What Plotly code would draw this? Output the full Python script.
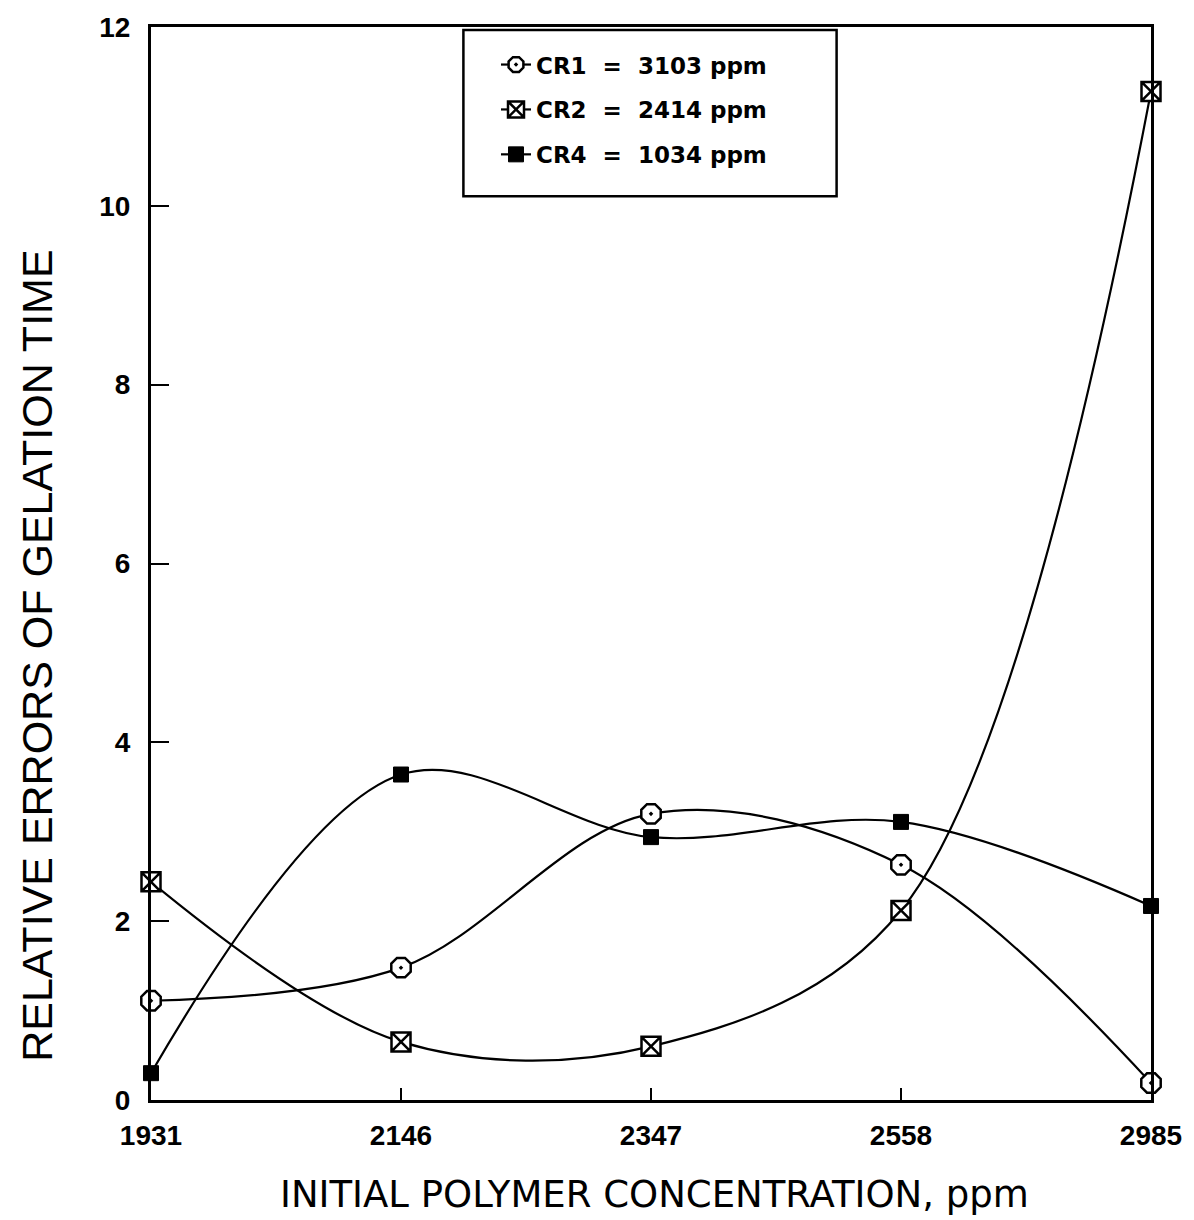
import plotly.graph_objects as go

# Initial polymer concentration (ppm), plotted as evenly spaced categories
concentrations = ["1931", "2146", "2347", "2558", "2985"]

# Relative errors of gelation time for each crosslinker concentration
cr1_errors = [1.11, 1.48, 3.20, 2.63, 0.19]
cr2_errors = [2.44, 0.65, 0.60, 2.12, 11.28]
cr4_errors = [0.30, 3.64, 2.94, 3.11, 2.17]

series_names = ["CR1  =  3103 ppm", "CR2  =  2414 ppm", "CR4  =  1034 ppm"]
y_ticks = [0, 2, 4, 6, 8, 10, 12]

TXT = "#000000"
SANS = "Liberation Sans, Arial, sans-serif"
WIDE = "DejaVu Sans, Verdana, sans-serif"

fig = go.Figure()

fig.add_trace(go.Scatter(
    x=concentrations, y=cr1_errors, name=series_names[0], legendgroup="a",
    mode="lines+markers", line=dict(color=TXT, width=2.2, shape="spline", smoothing=1.0),
    marker=dict(symbol="octagon-dot", size=21, color="white",
                line=dict(color=TXT, width=2.5)),
    cliponaxis=False,
))
fig.add_trace(go.Scatter(
    x=concentrations, y=cr2_errors, name=series_names[1], legendgroup="b",
    mode="lines+markers", line=dict(color=TXT, width=2.2, shape="spline", smoothing=1.0),
    marker=dict(symbol="square-x", size=19, color="white",
                line=dict(color=TXT, width=2.5)),
    cliponaxis=False,
))
fig.add_trace(go.Scatter(
    x=concentrations, y=cr4_errors, name=series_names[2], legendgroup="c",
    mode="lines+markers", line=dict(color=TXT, width=2.2, shape="spline", smoothing=1.0),
    marker=dict(symbol="square", size=15, color=TXT, line=dict(color=TXT, width=1)),
    cliponaxis=False,
))

# Legend frame
fig.add_shape(type="rect", xref="paper", yref="paper",
              x0=0.3124, x1=0.6856, y0=0.8422, y1=0.9972,
              line=dict(color=TXT, width=2.5), fillcolor="white", layer="below")

fig.add_annotation(
    text="RELATIVE ERRORS OF GELATION TIME", textangle=-90,
    xref="paper", yref="paper", x=-0.114, y=0.414, xanchor="center", yanchor="middle",
    showarrow=False,
    font=dict(family=SANS, size=43, color=TXT),
)
fig.add_annotation(
    text="INITIAL POLYMER CONCENTRATION, ppm",
    xref="paper", yref="paper", x=0.503, y=-0.088, xanchor="center", yanchor="middle",
    showarrow=False,
    font=dict(family=WIDE, size=37, color=TXT),
)

fig.update_layout(
    width=1194, height=1220,
    margin=dict(l=151, r=41, t=22, b=120),
    paper_bgcolor="white", plot_bgcolor="white",
    showlegend=True,
    legend=dict(
        x=0.345, y=0.985, xanchor="left", yanchor="top",
        bgcolor="rgba(0,0,0,0)", borderwidth=0,
        font=dict(family=WIDE, size=23, weight="bold", color=TXT),
        traceorder="grouped", tracegroupgap=12, itemwidth=30,
    ),
    xaxis=dict(
        type="category", range=[0, 4], showgrid=False, zeroline=False,
        showline=True, linecolor=TXT, linewidth=3, mirror=True,
        ticks="inside", ticklen=12, tickwidth=1.5, tickcolor=TXT,
        tickfont=dict(family=SANS, size=28, weight="bold", color=TXT), ticklabelstandoff=8,
    ),
    yaxis=dict(
        range=[0, 12], tickvals=y_ticks, showgrid=False, zeroline=False,
        showline=True, linecolor=TXT, linewidth=3, mirror=True,
        ticks="inside", ticklen=18, tickwidth=1.5, tickcolor=TXT,
        tickfont=dict(family=SANS, size=28, weight="bold", color=TXT), ticklabelstandoff=12,
    ),
)

fig.write_html("out.html")
